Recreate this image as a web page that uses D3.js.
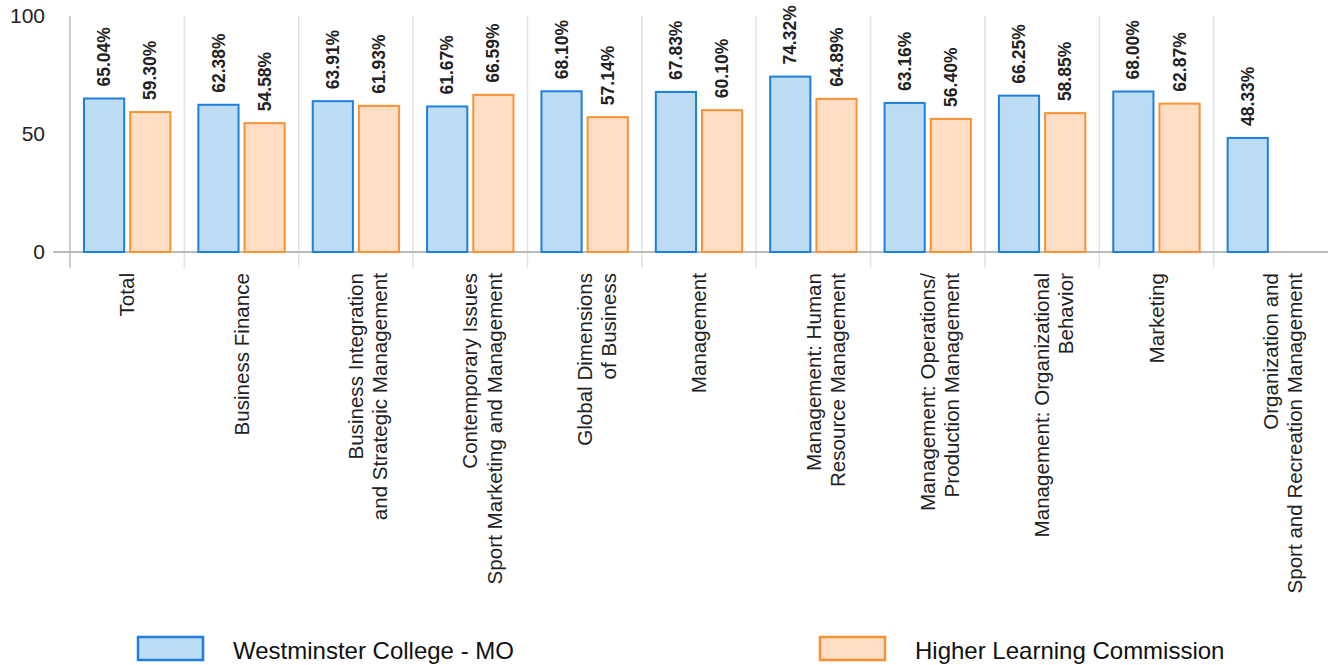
<!DOCTYPE html>
<html>
<head>
<meta charset="utf-8">
<script src="https://cdn.jsdelivr.net/npm/d3@7"></script>
<style>
  html, body { margin: 0; padding: 0; background: #fff; }
  svg { display: block; font-family: "Liberation Sans", Arial, sans-serif; }
</style>
</head>
<body>
<svg id="chart" width="1328" height="665"></svg>
<script>
// Category labels (lines separated by "\n")
const categories = [
  "Total",
  "Business Finance",
  "Business Integration\nand Strategic Management",
  "Contemporary Issues\nSport Marketing and Management",
  "Global Dimensions\nof Business",
  "Management",
  "Management: Human\nResource Management",
  "Management: Operations/\nProduction Management",
  "Management: Organizational\nBehavior",
  "Marketing",
  "Organization and\nSport and Recreation Management"
];

const seriesNames = ["Westminster College - MO", "Higher Learning Commission"];

// Percent values per series (null = no bar)
const westminster = [65.04, 62.38, 63.91, 61.67, 68.10, 67.83, 74.32, 63.16, 66.25, 68.00, 48.33];
const hlc         = [59.30, 54.58, 61.93, 66.59, 57.14, 60.10, 64.89, 56.40, 58.85, 62.87, null];

const yTicks = [0, 50, 100];

const fills   = ["#bfdcf5", "#ffdec5"];
const strokes = ["#1f7fdc", "#f99235"];

const svg = d3.select("#chart");
const plotLeft = 70, plotRight = 1328, plotTop = 16, plotBottom = 252;

const x = d3.scaleBand().domain(d3.range(categories.length)).range([plotLeft, plotRight]).paddingInner(0).paddingOuter(0);
const inner = d3.scaleBand().domain([0, 1]).range([14, x.bandwidth() - 14]).paddingInner(0.13);
const y = d3.scaleLinear().domain([0, 100]).range([plotBottom, plotTop]);

// Column separators
svg.append("g").selectAll("line")
  .data(d3.range(1, categories.length))
  .join("line")
  .attr("x1", i => x(i)).attr("x2", i => x(i))
  .attr("y1", plotTop).attr("y2", plotBottom + 16)
  .attr("stroke", "#e3e3e3").attr("stroke-width", 1.5);

// Y axis
const yAxis = svg.append("g")
  .attr("transform", `translate(${plotLeft},0)`)
  .call(d3.axisLeft(y).tickValues(yTicks).tickSize(0).tickPadding(25));
yAxis.select(".domain").remove();
yAxis.selectAll("text").attr("font-size", 21).attr("fill", "#222").attr("font-family", "Liberation Sans, Arial, sans-serif");

svg.append("line")
  .attr("x1", plotLeft).attr("x2", plotLeft).attr("y1", plotTop).attr("y2", plotBottom + 16)
  .attr("stroke", "#cccccc").attr("stroke-width", 2);
svg.append("line")
  .attr("x1", 53).attr("x2", plotRight).attr("y1", y(0)).attr("y2", y(0))
  .attr("stroke", "#bbbbbb").attr("stroke-width", 2);

// Bars
const seriesData = [westminster, hlc];
const barG = svg.append("g");
seriesData.forEach((vals, s) => {
  const pts = vals.map((v, i) => ({ v, i })).filter(d => d.v != null);
  barG.selectAll(null).data(pts).join("rect")
    .attr("x", d => x(d.i) + inner(s))
    .attr("y", d => y(d.v))
    .attr("width", inner.bandwidth())
    .attr("height", d => y(0) - y(d.v))
    .attr("fill", fills[s]).attr("stroke", strokes[s]).attr("stroke-width", 2);

  barG.selectAll(null).data(pts).join("text")
    .attr("transform", d => `translate(${x(d.i) + inner(s) + inner.bandwidth() / 2},${y(d.v) - 12}) rotate(-90)`)
    .attr("dy", "0.35em")
    .attr("font-size", 17.5).attr("font-weight", "bold").attr("fill", "#222")
    .text(d => d.v.toFixed(2) + "%");
});

// Category labels
const catG = svg.append("g");
categories.forEach((c, i) => {
  const t = catG.append("text")
    .attr("transform", `translate(${x(i) + x.bandwidth() / 2},${plotBottom + 21}) rotate(-90)`)
    .attr("text-anchor", "end")
    .attr("font-size", 20.6).attr("fill", "#222");
  c.split("\n").forEach((line, k) => {
    t.append("tspan").attr("x", 0).attr("y", 0).attr("dy", (0.35 + k * 1.17) + "em").text(line);
  });
});

// Legend
const legendX = [138, 820];
seriesNames.forEach((name, s) => {
  const g = svg.append("g").attr("transform", `translate(${legendX[s]},637)`);
  g.append("rect").attr("width", 65).attr("height", 23)
    .attr("fill", fills[s]).attr("stroke", strokes[s]).attr("stroke-width", 2.5);
  g.append("text").attr("x", 95).attr("y", 22)
    .attr("font-size", 24).attr("fill", "#111").text(name);
});
</script>
</body>
</html>
